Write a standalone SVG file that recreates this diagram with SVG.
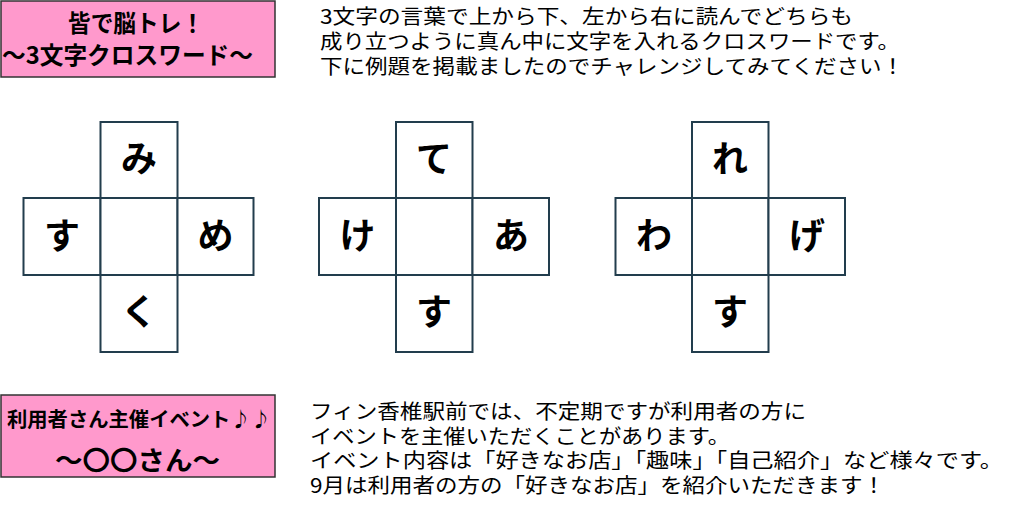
<svg xmlns="http://www.w3.org/2000/svg" width="1024" height="523" viewBox="0 0 1024 523">
<style>
.bg{fill:#ffffff}
.title{fill:#ff99cc;stroke:#333333;stroke-width:1.5}
.tt{font-family:"Noto Sans CJK JP",sans-serif;font-weight:700;fill:#000000}
.body{font-family:"Noto Sans CJK JP",sans-serif;font-size:20px;fill:#000000}
.cell{fill:#ffffff;stroke:#223d4d;stroke-width:2}
.ch{font-family:"Noto Sans CJK JP",sans-serif;font-weight:700;font-size:36px;fill:#000000;text-anchor:middle}
</style>
<rect class="bg" x="0" y="0" width="1024" height="523"/>

<g id="title1">
<rect class="title" x="1" y="1" width="274" height="76"/>
<text class="tt" x="68" y="32" font-size="24" textLength="136" lengthAdjust="spacingAndGlyphs">皆で脳トレ！</text>
<text class="tt" x="2" y="64" font-size="24" textLength="251" lengthAdjust="spacingAndGlyphs">〜3文字クロスワード〜</text>
</g>

<g id="intro">
<text class="body" x="320" y="24" textLength="533" lengthAdjust="spacingAndGlyphs">3文字の言葉で上から下、左から右に読んでどちらも</text>
<text class="body" x="320" y="49" textLength="580" lengthAdjust="spacingAndGlyphs">成り立つように真ん中に文字を入れるクロスワードです。</text>
<text class="body" x="320" y="74" textLength="584" lengthAdjust="spacingAndGlyphs">下に例題を掲載ましたのでチャレンジしてみてください！</text>
</g>

<g id="puzzle1">
<rect class="cell" x="100.5" y="122" width="77" height="76"/>
<rect class="cell" x="23.5" y="198" width="77" height="77"/>
<rect class="cell" x="100.5" y="198" width="77" height="77"/>
<rect class="cell" x="177.5" y="198" width="76" height="77"/>
<rect class="cell" x="100.5" y="275" width="77" height="77"/>
<text class="ch" x="139" y="172">み</text>
<text class="ch" x="62" y="249">す</text>
<text class="ch" x="215.5" y="249">め</text>
<text class="ch" x="139" y="325">く</text>
</g>

<g id="puzzle2">
<rect class="cell" x="396" y="122" width="76.5" height="76"/>
<rect class="cell" x="319" y="198" width="77" height="77"/>
<rect class="cell" x="396" y="198" width="76.5" height="77"/>
<rect class="cell" x="472.5" y="198" width="76.5" height="77"/>
<rect class="cell" x="396" y="275" width="76.5" height="77"/>
<text class="ch" x="434" y="172">て</text>
<text class="ch" x="357.5" y="249">け</text>
<text class="ch" x="511" y="249">あ</text>
<text class="ch" x="434" y="325">す</text>
</g>

<g id="puzzle3">
<rect class="cell" x="692" y="122" width="76.5" height="76"/>
<rect class="cell" x="615.5" y="198" width="76.5" height="77"/>
<rect class="cell" x="692" y="198" width="76.5" height="77"/>
<rect class="cell" x="768.5" y="198" width="76.5" height="77"/>
<rect class="cell" x="692" y="275" width="76.5" height="77"/>
<text class="ch" x="730" y="172">れ</text>
<text class="ch" x="654" y="249">わ</text>
<text class="ch" x="807" y="249">げ</text>
<text class="ch" x="730" y="325">す</text>
</g>

<g id="connectors"></g>

<g id="title2">
<rect class="title" x="1" y="395" width="274" height="82"/>
<text class="tt" x="7" y="427" font-size="20" textLength="264" lengthAdjust="spacingAndGlyphs">利用者さん主催イベント♪♪</text>
<text class="tt" x="55" y="470" font-size="26" textLength="165" lengthAdjust="spacingAndGlyphs">〜〇〇さん〜</text>
</g>

<g id="event">
<text class="body" x="310" y="419" textLength="496" lengthAdjust="spacingAndGlyphs">フィン香椎駅前では、不定期ですが利用者の方に</text>
<text class="body" x="310" y="443.5" textLength="420" lengthAdjust="spacingAndGlyphs">イベントを主催いただくことがあります。</text>
<text class="body" x="310" y="468" textLength="693" lengthAdjust="spacingAndGlyphs">イベント内容は「好きなお店」「趣味」「自己紹介」など様々です。</text>
<text class="body" x="310" y="492.5" textLength="575" lengthAdjust="spacingAndGlyphs">9月は利用者の方の「好きなお店」を紹介いただきます！</text>
</g>
</svg>
